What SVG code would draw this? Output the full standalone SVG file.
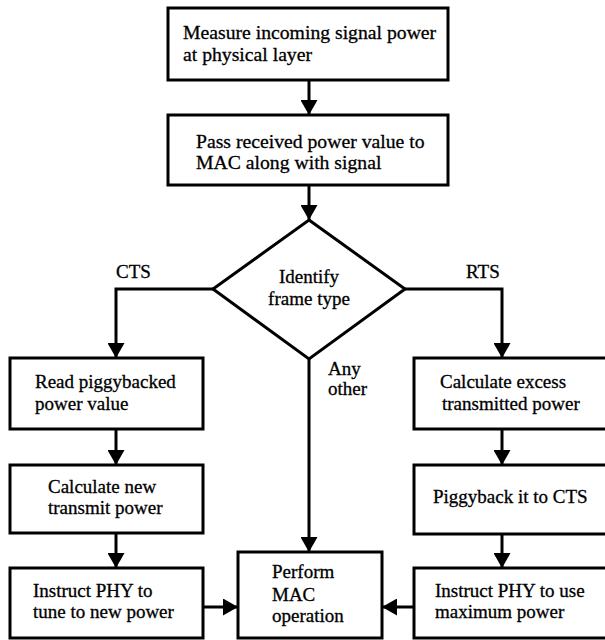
<svg xmlns="http://www.w3.org/2000/svg" width="605" height="640" viewBox="0 0 605 640">
<defs>
<style>
.box{fill:#fff;stroke:#000;stroke-width:3}
.t{font-family:'Liberation Serif','Times New Roman',serif;font-size:19px;fill:#000;stroke:#000;stroke-width:0.3}
.big{font-size:19.7px}
.c{text-anchor:middle}
.ln{fill:none;stroke:#000;stroke-width:3}
</style>
<marker id="ah" markerWidth="16" markerHeight="17" refX="15" refY="8.5" orient="auto" markerUnits="userSpaceOnUse">
<path d="M0,0 L15,8.5 L0,17 Z" fill="#000"/>
</marker>
</defs>
<rect width="605" height="640" fill="#fff"/>
<g id="connectors">
<line class="ln" x1="309" y1="80" x2="309" y2="115" marker-end="url(#ah)"/>
<line class="ln" x1="309" y1="185" x2="309" y2="220" marker-end="url(#ah)"/>
<polyline class="ln" points="213,289 116,289 116,358" marker-end="url(#ah)"/>
<polyline class="ln" points="405,289 502,289 502,358" marker-end="url(#ah)"/>
<line class="ln" x1="309" y1="359" x2="309" y2="552" marker-end="url(#ah)"/>
<line class="ln" x1="116" y1="429" x2="116" y2="465" marker-end="url(#ah)"/>
<line class="ln" x1="116" y1="533" x2="116" y2="568" marker-end="url(#ah)"/>
<line class="ln" x1="502" y1="429" x2="502" y2="465" marker-end="url(#ah)"/>
<line class="ln" x1="502" y1="534" x2="502" y2="568" marker-end="url(#ah)"/>
<line class="ln" x1="203" y1="607" x2="238" y2="607" marker-end="url(#ah)"/>
<line class="ln" x1="414" y1="607" x2="382" y2="607" marker-end="url(#ah)"/>
<text class="t" x="116" y="278">CTS</text>
<text class="t" x="466" y="278">RTS</text>
<text class="t" x="328" y="375">Any</text>
<text class="t" x="328" y="395">other</text>
</g>
<g id="measure">
<rect class="box" x="168" y="8" width="280" height="72"/>
<text class="t big" x="183" y="39">Measure incoming signal power</text>
<text class="t big" x="183" y="61">at physical layer</text>
</g>
<g id="pass">
<rect class="box" x="168" y="115" width="280" height="70"/>
<text class="t big" x="196" y="148">Pass received power value to</text>
<text class="t big" x="196" y="169">MAC along with signal</text>
</g>
<g id="identify">
<polygon class="box" points="309,220 405,289 309,359 213,289"/>
<text class="t c" x="309" y="283">Identify</text>
<text class="t c" x="309" y="305">frame type</text>
</g>
<g id="read">
<rect class="box" x="10" y="358" width="193" height="71"/>
<text class="t" x="35" y="388">Read piggybacked</text>
<text class="t" x="35" y="410">power value</text>
</g>
<g id="calcnew">
<rect class="box" x="10" y="465" width="193" height="68"/>
<text class="t" x="48" y="493">Calculate new</text>
<text class="t" x="48" y="514">transmit power</text>
</g>
<g id="instructnew">
<rect class="box" x="10" y="568" width="193" height="70"/>
<text class="t" x="33" y="597">Instruct PHY to</text>
<text class="t" x="33" y="618">tune to new power</text>
</g>
<g id="calcexcess">
<rect class="box" x="414" y="358" width="194" height="71"/>
<text class="t" x="440" y="388">Calculate excess</text>
<text class="t" x="442" y="410">transmitted power</text>
</g>
<g id="piggyback">
<rect class="box" x="414" y="465" width="194" height="69"/>
<text class="t" x="433" y="503">Piggyback it to CTS</text>
</g>
<g id="instructmax">
<rect class="box" x="414" y="568" width="194" height="70"/>
<text class="t" x="435" y="597">Instruct PHY to use</text>
<text class="t" x="435" y="618">maximum power</text>
</g>
<g id="perform">
<rect class="box" x="238" y="552" width="144" height="86"/>
<text class="t" x="272" y="578">Perform</text>
<text class="t" x="272" y="601">MAC</text>
<text class="t" x="272" y="622">operation</text>
</g>
</svg>
